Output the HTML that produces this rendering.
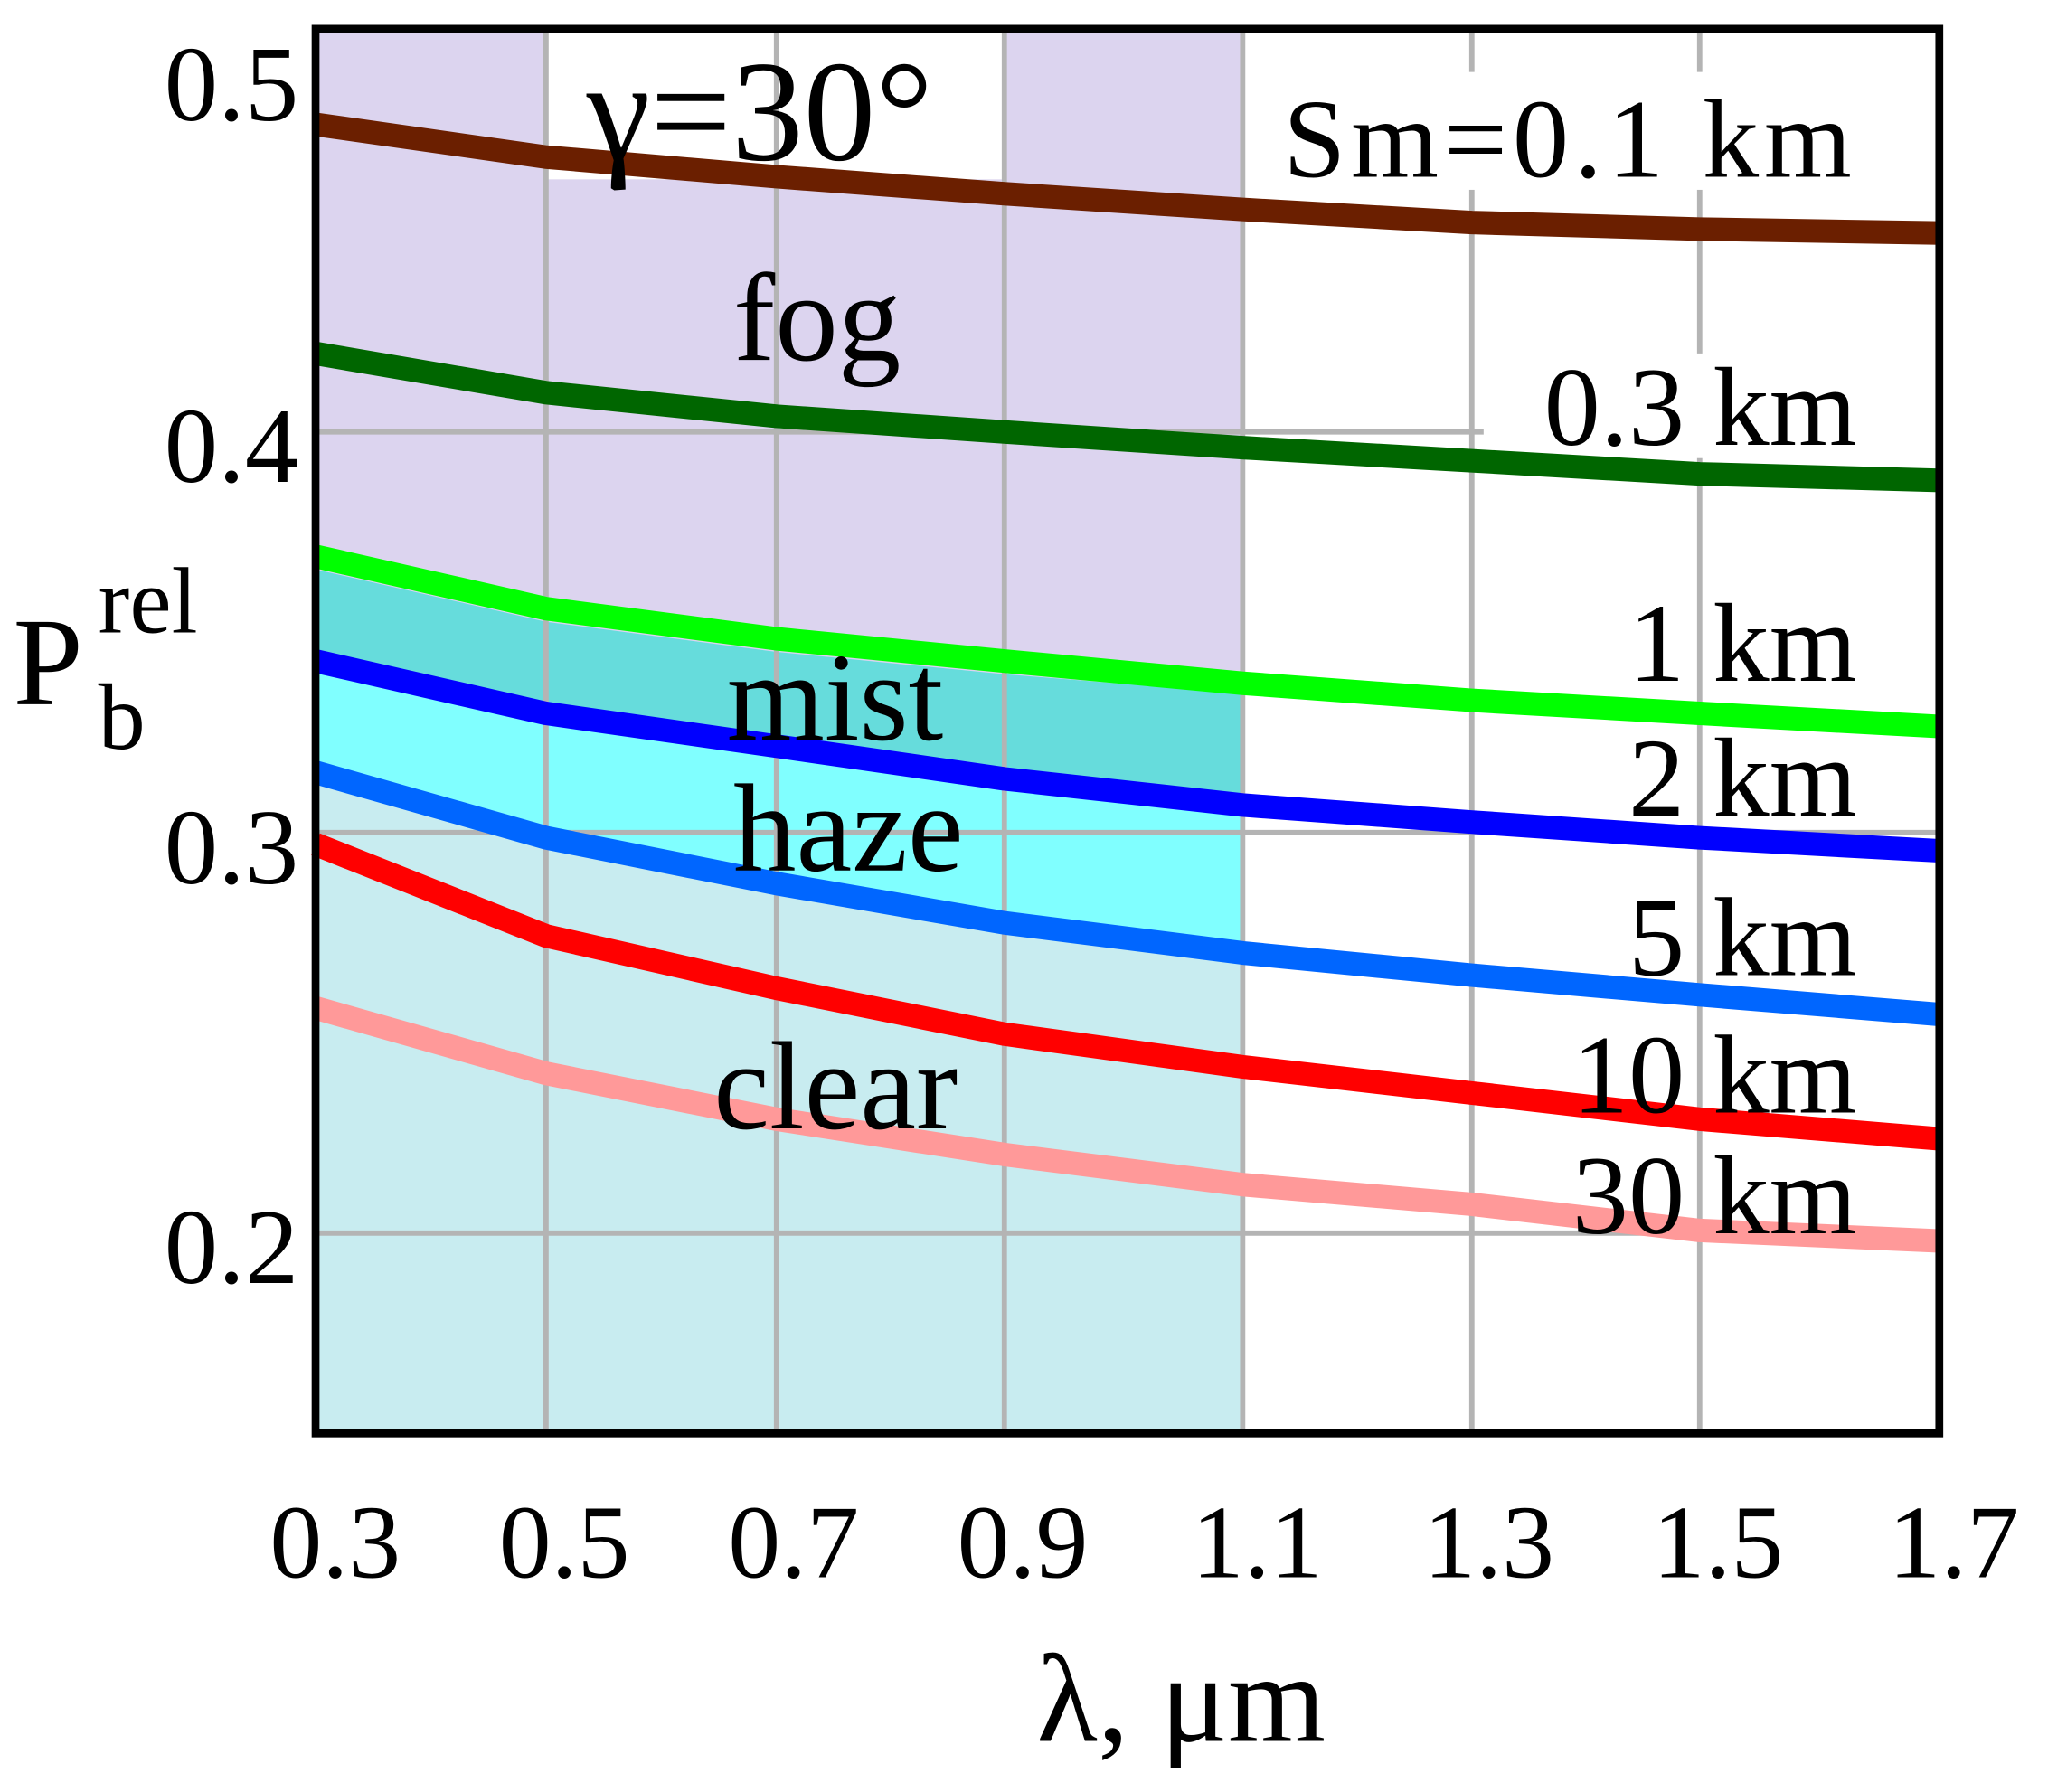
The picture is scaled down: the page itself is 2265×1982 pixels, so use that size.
<!DOCTYPE html>
<html><head><meta charset="utf-8"><style>
html,body{margin:0;padding:0;background:#fff;width:2265px;height:1982px;overflow:hidden}
svg{display:block}
text{font-family:"Liberation Serif",serif;fill:#000}
</style></head><body>
<svg width="2265" height="1982" viewBox="0 0 1564 1369" preserveAspectRatio="none">
<rect x="241" y="22" width="708" height="1073" fill="#dcd4ef"/>
<rect x="418" y="22" width="348" height="115" fill="#fff"/>
<polygon fill="#66dcdc" points="241,435 417,475 593,498 767,515 949,530 949,1095 241,1095"/>
<polygon fill="#80ffff" points="241,505 417,545 593,570 767,595 949,615 949,1095 241,1095"/>
<polygon fill="#c8ecf0" points="241,590 417,640 593,675 767,705 949,728 949,1095 241,1095"/>
<g stroke="#b4b4b4" stroke-width="4">
<line x1="417" y1="22" x2="417" y2="1095"/><line x1="593" y1="22" x2="593" y2="1095"/>
<line x1="767" y1="22" x2="767" y2="1095"/><line x1="949" y1="22" x2="949" y2="1095"/>
<line x1="1124" y1="22" x2="1124" y2="1095"/><line x1="1298" y1="22" x2="1298" y2="1095"/>
<line x1="241" y1="330" x2="1133" y2="330"/><line x1="241" y1="636" x2="1481" y2="636"/>
<line x1="241" y1="942" x2="1481" y2="942"/>
</g>
<rect x="962" y="55" width="460" height="90" fill="#fff"/>
<rect x="1155" y="270" width="270" height="80" fill="#fff"/>
<g fill="none" stroke-width="18" stroke-linejoin="round">
<polyline stroke="#6b1f00" points="241,95 417,120 593,135 767,148 949,160 1124,170 1298,175 1481,178"/>
<polyline stroke="#006600" points="241,270 417,300 593,318 767,330 949,342 1124,352 1298,362 1481,367"/>
<polyline stroke="#00ff00" points="241,425 417,465 593,488 767,505 949,522 1124,535 1298,545 1481,555"/>
<polyline stroke="#0000ff" points="241,505 417,545 593,570 767,595 949,615 1124,628 1298,640 1481,650"/>
<polyline stroke="#0066ff" points="241,590 417,640 593,675 767,705 949,728 1124,745 1298,760 1481,775"/>
<polyline stroke="#ff0000" points="241,645 417,715 593,755 767,790 949,815 1124,835 1298,855 1481,870"/>
<polyline stroke="#ff9999" points="241,770 417,820 593,855 767,882 949,905 1124,920 1298,940 1481,948"/>
</g>
<rect x="241" y="22" width="1240" height="1073" fill="none" stroke="#000" stroke-width="6"/>
<text x="448" y="122" font-size="110">γ=30°</text>
<g font-size="96">
<text x="560" y="275">fog</text>
<text x="555" y="565">mist</text>
<text x="560" y="665">haze</text>
<text x="545" y="862">clear</text>
</g>
<g font-size="86" text-anchor="end">
<text x="1418" y="135" letter-spacing="4">Sm=0.1 km</text>
<text x="1418" y="340">0.3 km</text>
<text x="1418" y="520">1 km</text>
<text x="1418" y="623">2 km</text>
<text x="1418" y="745">5 km</text>
<text x="1418" y="850">10 km</text>
<text x="1418" y="942">30 km</text>
</g>
<g font-size="82" text-anchor="end">
<text x="228" y="92">0.5</text>
<text x="228" y="368">0.4</text>
<text x="228" y="675">0.3</text>
<text x="228" y="980">0.2</text>
</g>
<g font-size="80" text-anchor="middle">
<text x="256" y="1205">0.3</text><text x="431" y="1205">0.5</text>
<text x="606" y="1205">0.7</text><text x="781" y="1205">0.9</text>
<text x="960" y="1205">1.1</text><text x="1137" y="1205">1.3</text>
<text x="1312" y="1205">1.5</text><text x="1492" y="1205">1.7</text>
</g>
<text x="902" y="1330" font-size="96" text-anchor="middle">λ, μm</text>
<text x="10" y="538" font-size="96">P</text>
<text x="75" y="483" font-size="72">rel</text>
<text x="75" y="572" font-size="72">b</text>
</svg>
</body></html>
